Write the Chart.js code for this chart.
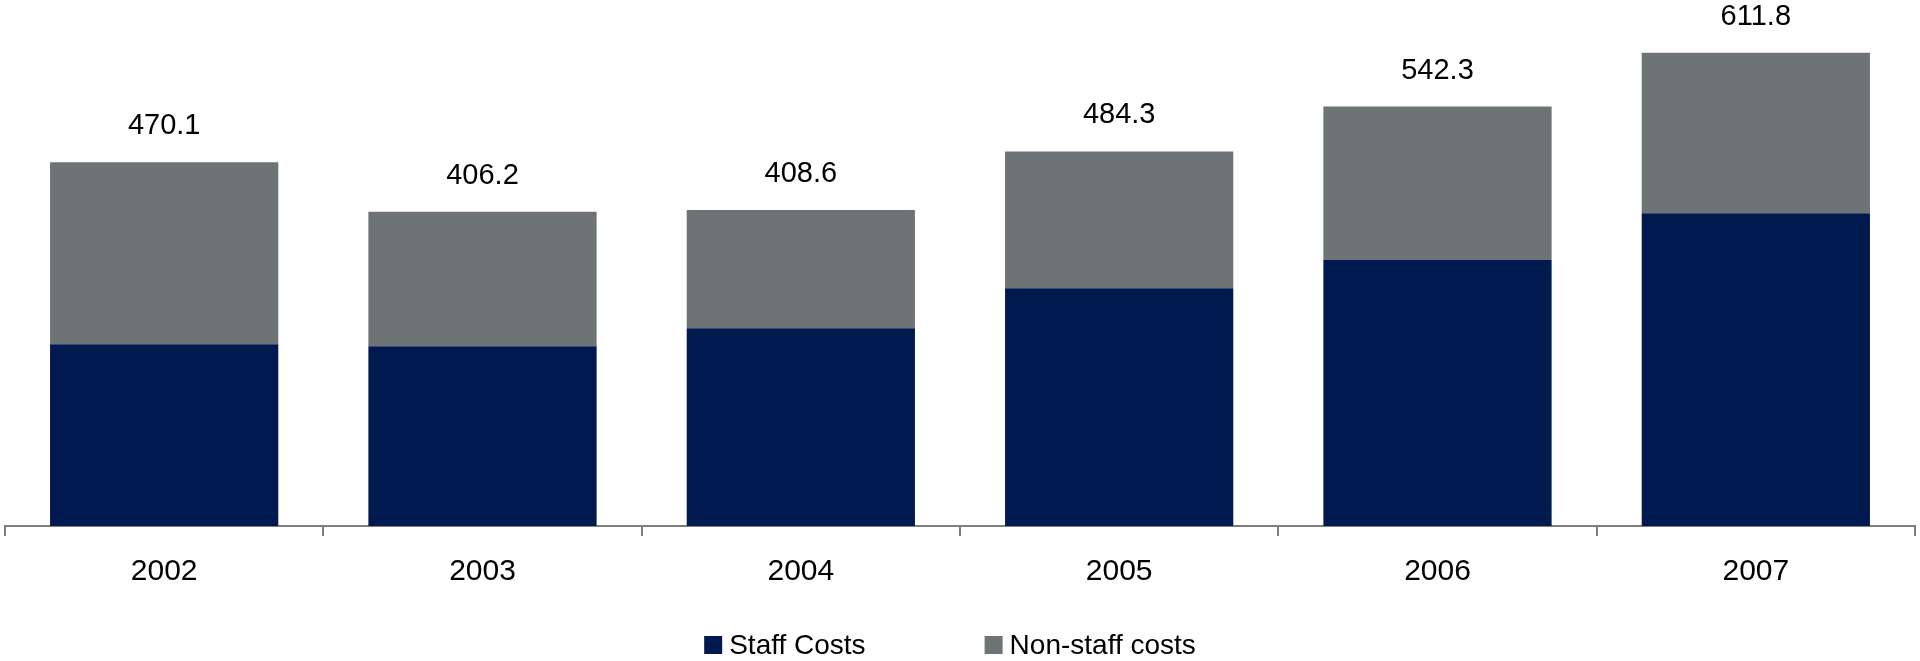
<!DOCTYPE html>
<html>
<head>
<meta charset="utf-8">
<script src="https://cdn.jsdelivr.net/npm/chart.js@4/dist/chart.umd.min.js"></script>
<style>
  html, body { margin: 0; padding: 0; background: #ffffff; }
  #wrap { width: 1920px; height: 661px; position: relative; }
</style>
</head>
<body>
<div id="wrap"><canvas id="c" width="1920" height="661"></canvas></div>
<script>
const categories = ["2002", "2003", "2004", "2005", "2006", "2007"];
const totals = [470.1, 406.2, 408.6, 484.3, 542.3, 611.8];
const staffCosts = [235.0, 232.5, 255.7, 307.4, 344.0, 404.2];
const nonStaffCosts = [235.1, 173.7, 152.9, 176.9, 198.3, 207.6];

const FONT = "'Liberation Sans', Arial, Helvetica, sans-serif";

const totalLabels = {
  id: 'totalLabels',
  afterDatasetsDraw(chart) {
    const ctx = chart.ctx;
    const meta = chart.getDatasetMeta(chart.data.datasets.length - 1);
    ctx.save();
    ctx.font = "29px " + FONT;
    ctx.fillStyle = "#000000";
    ctx.textAlign = "center";
    ctx.textBaseline = "middle";
    meta.data.forEach((bar, i) => {
      ctx.fillText(totals[i].toFixed(1), bar.x, bar.y - 36);
    });
    ctx.restore();
  }
};

const bottomLegend = {
  id: 'bottomLegend',
  afterDraw(chart) {
    const ctx = chart.ctx;
    const sets = chart.data.datasets;
    const box = 18, gapText = 7, gapItem = 119;
    ctx.save();
    ctx.font = "28px " + FONT;
    ctx.textBaseline = "middle";
    ctx.textAlign = "left";
    const widths = sets.map(d => ctx.measureText(d.label).width);
    let total = 0;
    widths.forEach((w, i) => { total += box + gapText + w + (i < widths.length - 1 ? gapItem : 0); });
    let x = chart.width / 2 - 10 - total / 2;
    const cy = 645;
    sets.forEach((d, i) => {
      ctx.fillStyle = d.backgroundColor;
      ctx.fillRect(x, cy - box / 2, box, box);
      ctx.fillStyle = "#000000";
      ctx.fillText(d.label, x + box + gapText, cy + 1);
      x += box + gapText + widths[i] + gapItem;
    });
    ctx.restore();
  }
};

new Chart(document.getElementById('c'), {
  type: 'bar',
  data: {
    labels: categories,
    datasets: [
      {
        label: 'Staff Costs',
        data: staffCosts,
        backgroundColor: '#001A50',
        borderWidth: 0,
        barPercentage: 0.717,
        categoryPercentage: 1.0
      },
      {
        label: 'Non-staff costs',
        data: nonStaffCosts,
        backgroundColor: '#6E7376',
        borderWidth: 0,
        barPercentage: 0.717,
        categoryPercentage: 1.0
      }
    ]
  },
  options: {
    responsive: false,
    animation: false,
    layout: { padding: { left: 5, right: 5, top: 0, bottom: 53 } },
    plugins: {
      legend: { display: false },
      tooltip: { enabled: false }
    },
    scales: {
      x: {
        stacked: true,
        grid: {
          offset: true,
          drawOnChartArea: false,
          drawTicks: true,
          tickLength: 10,
          color: '#7F7F7F',
          lineWidth: 2
        },
        border: { display: true, color: '#7F7F7F', width: 2 },
        ticks: {
          color: '#000000',
          font: { family: FONT, size: 30 },
          padding: 18
        }
      },
      y: {
        stacked: true,
        display: false,
        min: 0,
        max: 680
      }
    }
  },
  plugins: [totalLabels, bottomLegend]
});
</script>
</body>
</html>
